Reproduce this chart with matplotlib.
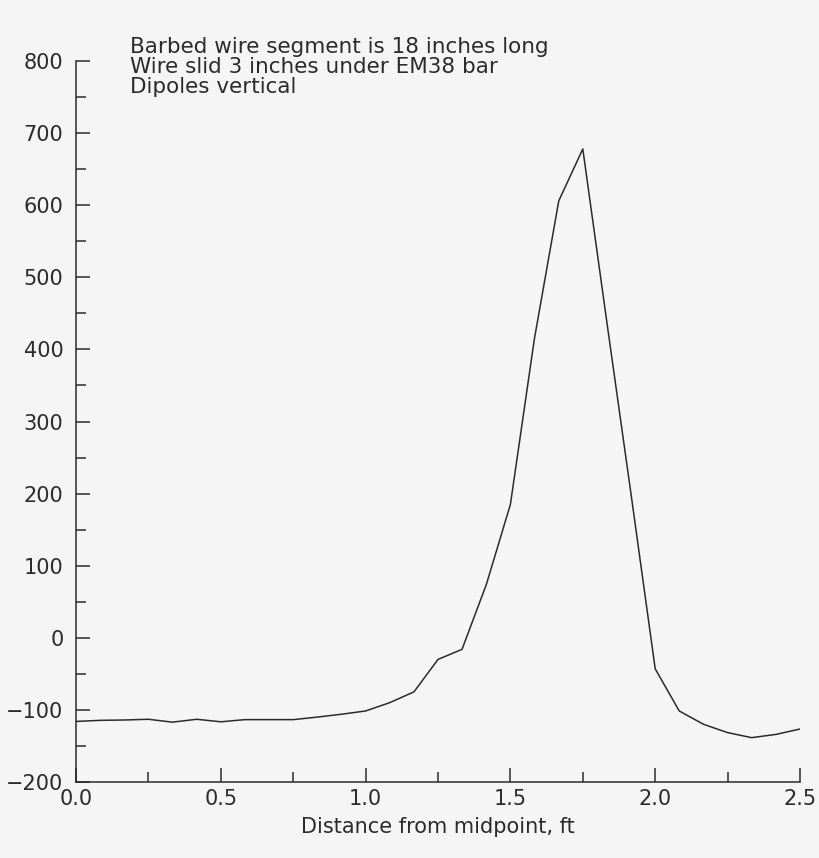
import matplotlib
matplotlib.use("Agg")
import matplotlib.pyplot as plt
from matplotlib.ticker import MultipleLocator

# distance from midpoint (ft), one reading per inch
distance_ft = [0.000, 0.083, 0.167, 0.250, 0.333, 0.417, 0.500, 0.583, 0.667, 0.750,
               0.833, 0.917, 1.000, 1.083, 1.167, 1.250, 1.333, 1.417, 1.500, 1.583,
               1.667, 1.750, 1.833, 1.917, 2.000, 2.083, 2.167, 2.250, 2.333, 2.417,
               2.500]
response = [-116, -114.5, -114, -113, -117, -113, -116.5, -113.5, -113.5, -113.5,
            -110, -106, -101.5, -90, -75, -30, -16, 74, 185, 415,
            606, 678, 438, 198, -43, -101.5, -120, -131.5, -138.5, -134,
            -126.5]

notes = ["Barbed wire segment is 18 inches long",
         "Wire slid 3 inches under EM38 bar",
         "Dipoles vertical"]
xlabel = "Distance from midpoint, ft"

bg = "#f5f5f5"
ink = "#2b2b2b"

fig = plt.figure(figsize=(8.2, 8.58), dpi=100, facecolor=bg)
ax = fig.add_axes([76 / 820, 76 / 858, 724 / 820, 721 / 858])
ax.set_facecolor(bg)

ax.plot(distance_ft, response, color=ink, lw=1.1)

ax.set_xlim(0, 2.5)
ax.set_ylim(-200, 800)
ax.xaxis.set_major_locator(MultipleLocator(0.5))
ax.xaxis.set_minor_locator(MultipleLocator(0.25))
ax.yaxis.set_major_locator(MultipleLocator(100))
ax.yaxis.set_minor_locator(MultipleLocator(50))
ax.xaxis.set_major_formatter(matplotlib.ticker.FormatStrFormatter("%.1f"))

for s in ["top", "right"]:
    ax.spines[s].set_visible(False)
for s in ["left", "bottom"]:
    ax.spines[s].set_color(ink)
    ax.spines[s].set_linewidth(1.1)

ax.tick_params(which="both", direction="in", colors=ink, labelcolor=ink, labelsize=15)
ax.tick_params(which="major", length=10, width=1.1)
ax.tick_params(which="minor", length=7, width=1.1)
ax.tick_params(axis="y", which="major", pad=9)
ax.tick_params(axis="x", which="major", pad=5)

ax.set_xlabel(xlabel, fontsize=15, color=ink, labelpad=6)

fig.text(130 / 820, 1 - 37 / 858, "\n".join(notes), fontsize=15.5, color=ink,
         va="top", ha="left", linespacing=1.0)

fig.savefig("out.png", dpi=100, facecolor=bg)
